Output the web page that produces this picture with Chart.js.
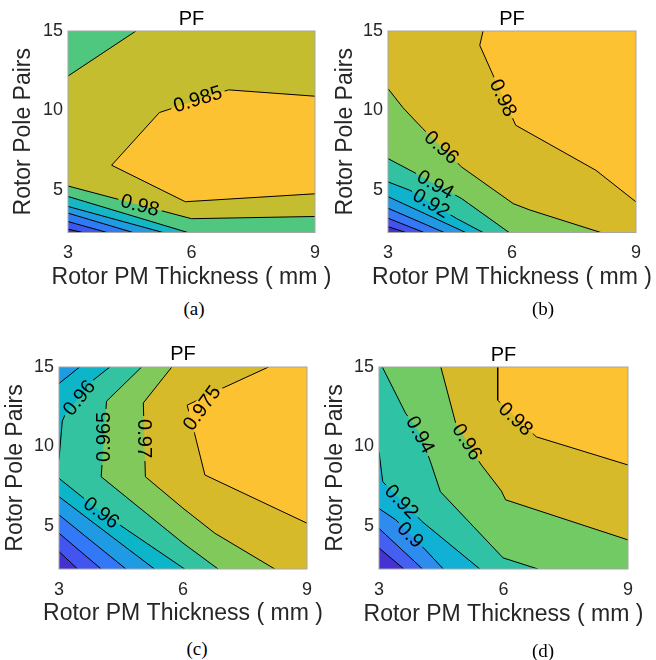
<!DOCTYPE html>
<html>
<head>
<meta charset="utf-8">
<script src="https://cdn.jsdelivr.net/npm/chart.js@4.4.1/dist/chart.umd.min.js"></script>
<style>
  body { margin: 0; background: #fff; }
  #fig { position: relative; width: 656px; height: 660px; overflow: hidden; }
  #fig canvas { position: absolute; }
  .cap { position: absolute; width: 60px; text-align: center; line-height: 22px;
         font: 19px 'Liberation Serif', 'Times New Roman', serif; color: #000; }
</style>
</head>
<body>
<div id="fig">
  <canvas id="pfA" width="345" height="296" style="left:0;top:0"></canvas>
  <canvas id="pfB" width="328" height="296" style="left:328px;top:0"></canvas>
  <canvas id="pfC" width="345" height="296" style="left:0;top:336px"></canvas>
  <canvas id="pfD" width="336" height="296" style="left:320px;top:336px"></canvas>
  <div class="cap" style="left:164px;top:298px">(a)</div>
  <div class="cap" style="left:513px;top:298px">(b)</div>
  <div class="cap" style="left:167px;top:638px">(c)</div>
  <div class="cap" style="left:513px;top:640px">(d)</div>
</div>
<script>
Chart.defaults.font.family = "'Liberation Sans', Arial, sans-serif";

const X_MIN = 3, X_MAX = 9, Y_MIN = 2.3, Y_MAX = 15;
const xTicks = [3, 6, 9];
const yTicks = [5, 10, 15];

// (a) contour levels, band colours (lowest band first) and contour pieces per level
const aLevels = [0.955, 0.96, 0.965, 0.97, 0.975, 0.98, 0.985];
const aColors = ['#4331cf', '#3d58ef', '#2f7bf5', '#1f9be2', '#15b7c3', '#4fc77e', '#c4bd2f', '#fcc232'];
const aContours = [
  [[[3, 2.51], [3.36, 2.3]]],
  [[[3, 2.99], [3.95, 2.3]]],
  [[[3, 3.52], [4.58, 2.3]]],
  [[[3, 3.94], [5.31, 2.3]]],
  [[[3, 4.57], [5.91, 2.3]]],
  [[[3, 5.23], [6, 3.17], [9, 3.31]], [[4.65, 15], [3, 12.16]]],
  [[[9, 10.89], [6.9, 11.29], [5.22, 9.86], [4.06, 6.54], [5.85, 4.24], [9, 4.74]]]
];
const aLabels = [[0.985, 6.15, 10.72, -17], [0.98, 4.75, 4.03, 15]];

// (b)
const bLevels = [0.84, 0.86, 0.88, 0.90, 0.92, 0.94, 0.96, 0.98];
const bColors = ['#4431d0', '#4453ee', '#3477f7', '#2198e4', '#0fb4cc', '#31c2a2', '#7fc95b', '#d6ba29', '#fcc232'];
const bContours = [
  [[[3, 2.67], [3.43, 2.3]]],
  [[[3, 3.20], [3.87, 2.3]]],
  [[[3, 3.83], [4.36, 2.3]]],
  [[[3, 4.56], [4.88, 2.3]]],
  [[[3, 5.49], [3.53, 4.96], [4.66, 3.18], [5.3, 2.3]]],
  [[[3, 6.96], [3.61, 6.12], [4.78, 4.44], [5.93, 2.3]]],
  [[[3, 11.37], [3.36, 10.17], [3.84, 8.85], [4.78, 6.43], [6.03, 4.12], [6.43, 3.72], [8.15, 2.3]]],
  [[[5.30, 15], [5.22, 14.1], [5.49, 12.52], [6.09, 9.06], [8.03, 6.22], [9, 4.23]]]
];
const bLabels = [[0.98, 5.79, 10.79, 65], [0.96, 4.3, 7.67, 42], [0.94, 4.15, 5.34, 30], [0.92, 4.05, 4.15, 31]];

// (c)
const cLevels = [0.94, 0.945, 0.95, 0.955, 0.96, 0.965, 0.97, 0.975];
const cColors = ['#4331d2', '#4255f0', '#3278f7', '#1f9be3', '#0db5c9', '#33c3a0', '#80c95a', '#d6ba29', '#fcc232'];
const cContours = [
  [[[3, 3.4], [3.45, 2.3]]],
  [[[3, 4.55], [4.02, 2.3]]],
  [[[3, 5.7], [4.62, 2.3]]],
  [[[3, 6.85], [5.31, 2.3]], [[3.5, 15], [3, 13.96]]],
  [[[3, 8.0], [4.03, 5.85], [6.04, 2.3]], [[4.23, 15], [3.82, 14.16], [3.14, 11.96], [3.08, 11.6], [3, 9.2]]],
  [[[5.0, 15], [4.15, 12.85], [4.02, 8.1], [6.0, 3.93], [6.85, 2.3]]],
  [[[5.73, 15], [5.04, 12.74], [5.09, 8.1], [6.0, 6.12], [6.77, 4.55], [8.22, 2.3]]],
  [[[8.07, 15], [6.94, 13.65], [6.1, 12.6], [6.28, 10.82], [6.53, 8.21], [9, 5.18]]]
];
const cLabels = [[0.96, 3.48, 13.07, -51], [0.965, 4.08, 10.6, -90], [0.97, 5.07, 10.5, 90],
                 [0.975, 6.45, 12.43, -54], [0.96, 4.03, 5.85, 37]];

// (d)
const dLevels = [0.86, 0.88, 0.90, 0.92, 0.94, 0.96, 0.98];
const dColors = ['#4432d2', '#4360f0', '#2f8cef', '#11b1d6', '#2fc2a4', '#72ca64', '#d6ba29', '#fcc232'];
const dContours = [
  [[[3, 3.62], [3.6, 2.3]]],
  [[[3, 4.85], [4.05, 2.3]]],
  [[[3, 6.1], [3.40, 5.4], [4.12, 3.5], [4.55, 2.3]]],
  [[[3, 9.67], [3.09, 7.79], [4.04, 5.28], [5.43, 2.3]]],
  [[[3.08, 15], [3.64, 12.1], [4.0, 10.75], [4.24, 9.04], [4.48, 7.16], [5.99, 3.0], [6.83, 2.3]]],
  [[[4.49, 15], [4.85, 11.45], [5.45, 8.9], [5.95, 7.2], [6.05, 6.65], [9, 4.13]]],
  [[[5.86, 15], [5.86, 12.91], [6.79, 10.61], [9, 8.84]]]
];
const dLabels = [[0.98, 6.3, 11.75, 43], [0.96, 5.13, 10.3, 58], [0.94, 4.0, 10.75, 62],
                 [0.92, 3.55, 6.55, 46], [0.9, 3.76, 4.45, 45]];

const W_SPAN = X_MAX - X_MIN, H_SPAN = Y_MAX - Y_MIN, PERIM = 2 * (W_SPAN + H_SPAN);
const frameCorners = [
  [X_MAX, Y_MIN, W_SPAN], [X_MAX, Y_MAX, W_SPAN + H_SPAN],
  [X_MIN, Y_MAX, 2 * W_SPAN + H_SPAN], [X_MIN, Y_MIN, PERIM]
];

// distance along the frame, counter-clockwise from the bottom-left corner
function framePos([x, y]) {
  const e = 1e-9;
  if (Math.abs(y - Y_MIN) < e) return x - X_MIN;
  if (Math.abs(x - X_MAX) < e) return W_SPAN + (y - Y_MIN);
  if (Math.abs(y - Y_MAX) < e) return W_SPAN + H_SPAN + (X_MAX - x);
  return 2 * W_SPAN + H_SPAN + (Y_MAX - y);
}

// frame corners met when going counter-clockwise from one edge point to another
function frameWalk(from, to) {
  const a = framePos(from);
  let b = framePos(to);
  if (b <= a) b += PERIM;
  const hits = [];
  frameCorners.forEach(([x, y, t]) => {
    [t - PERIM, t, t + PERIM].forEach(tt => { if (tt > a && tt < b) hits.push([tt, [x, y]]); });
  });
  return hits.sort((p, q) => p[0] - q[0]).map(h => h[1]);
}

// area above a level: its pieces (higher side on the left) joined along the frame
function superLevel(pieces) {
  const pts = [];
  pieces.forEach((piece, i) => {
    const next = pieces[(i + 1) % pieces.length];
    pts.push(...piece, ...frameWalk(piece[piece.length - 1], next[0]));
  });
  return pts;
}

const toXY = pts => pts.map(([x, y]) => ({ x, y }));
const LABEL_FONT = "20px 'Liberation Sans', Arial, sans-serif";
const AXIS_FONT = "23px 'Liberation Sans', Arial, sans-serif";

function panelPlugin(labels, f) {
  const boxes = chart => {
    const ctx = chart.ctx;
    ctx.save();
    ctx.font = LABEL_FONT;
    const out = labels.map(([lv, x, y, ang]) => ({
      text: String(lv),
      px: chart.scales.x.getPixelForValue(x),
      py: chart.scales.y.getPixelForValue(y),
      rot: ang * Math.PI / 180,
      w: ctx.measureText(String(lv)).width + 6,
      h: 17
    }));
    ctx.restore();
    return out;
  };
  return {
    id: 'contourLabels',
    // leave a gap in the contour lines under each label
    beforeDatasetDraw(chart, args) {
      if (!chart.data.datasets[args.index].contourLine) return;
      const ctx = chart.ctx, a = chart.chartArea;
      ctx.save();
      ctx.beginPath();
      ctx.rect(a.left, a.top, a.right - a.left, a.bottom - a.top);
      boxes(chart).forEach(b => {
        const c = Math.cos(b.rot), s = Math.sin(b.rot);
        [[-1, -1], [1, -1], [1, 1], [-1, 1]].forEach(([u, v], k) => {
          const dx = u * b.w / 2, dy = v * b.h / 2;
          const X = b.px + dx * c - dy * s, Y = b.py + dx * s + dy * c;
          k ? ctx.lineTo(X, Y) : ctx.moveTo(X, Y);
        });
        ctx.closePath();
      });
      ctx.clip('evenodd');
    },
    afterDatasetDraw(chart, args) {
      if (chart.data.datasets[args.index].contourLine) chart.ctx.restore();
    },
    afterDatasetsDraw(chart) {
      const ctx = chart.ctx;
      boxes(chart).forEach(b => {
        ctx.save();
        ctx.translate(b.px, b.py);
        ctx.rotate(b.rot);
        ctx.font = LABEL_FONT;
        ctx.fillStyle = '#000';
        ctx.textAlign = 'center';
        ctx.textBaseline = 'middle';
        ctx.fillText(b.text, 0, 1);
        ctx.restore();
      });
    },
    afterDraw(chart) {
      const ctx = chart.ctx, a = chart.chartArea;
      ctx.save();
      ctx.strokeStyle = '#a6a6a6';
      ctx.lineWidth = 1;
      ctx.strokeRect(a.left, a.top, a.right - a.left, a.bottom - a.top);
      // x axis title, wider than the plot so drawn here without squeezing
      ctx.font = AXIS_FONT;
      ctx.fillStyle = '#262626';
      ctx.textAlign = 'center';
      ctx.textBaseline = 'middle';
      ctx.fillText('Rotor PM Thickness ( mm )', (a.left + a.right) / 2, f.xTitleY);
      ctx.restore();
    }
  };
}

function drawPanel(id, levels, colors, contours, labels, f) {
  const frame = [[X_MIN, Y_MIN], [X_MAX, Y_MIN], [X_MAX, Y_MAX], [X_MIN, Y_MAX]];
  const regions = [frame].concat(contours.map(superLevel));
  const datasets = regions.map((poly, k) => ({
    data: toXY(poly),
    backgroundColor: colors[k],
    borderColor: 'transparent',
    borderWidth: 0,
    fill: 'shape',
    pointRadius: 0,
    order: 100 - k
  }));
  contours.forEach((pieces, i) => pieces.forEach(piece => datasets.push({
    label: String(levels[i]),
    data: toXY(piece),
    borderColor: '#000',
    borderWidth: 1,
    fill: false,
    pointRadius: 0,
    order: 0,
    contourLine: true
  })));

  new Chart(document.getElementById(id), {
    type: 'line',
    data: { datasets },
    options: {
      responsive: false,
      animation: false,
      events: [],
      layout: { padding: { left: 0, top: 0, bottom: 0, right: f.W - f.R } },
      plugins: {
        legend: { display: false },
        tooltip: { enabled: false },
        title: {
          display: true, text: 'PF', fullSize: false, color: '#000',
          font: { size: 20, weight: 'normal' },
          padding: { top: f.titleY - 12, bottom: f.T - f.titleY - 12 }
        }
      },
      scales: {
        x: {
          type: 'linear', min: X_MIN, max: X_MAX,
          afterBuildTicks: s => { s.ticks = xTicks.map(value => ({ value })); },
          afterFit: s => { s.height = f.H - f.B; },
          grid: { display: false, drawTicks: false },
          border: { display: false },
          ticks: { padding: 10, color: '#262626', font: { size: 18 }, maxRotation: 0 },
          title: { display: false }
        },
        y: {
          type: 'linear', min: Y_MIN, max: Y_MAX,
          afterBuildTicks: s => { s.ticks = yTicks.map(value => ({ value })); },
          afterFit: s => { s.width = f.L; },
          grid: { display: false, drawTicks: false },
          border: { display: false },
          ticks: { padding: 5, color: '#262626', font: { size: 18 } },
          title: {
            display: true, text: 'Rotor Pole Pairs', color: '#262626',
            font: { size: 23 }, padding: { top: f.yTitleX - 13.8, bottom: 0 }
          }
        }
      }
    },
    plugins: [panelPlugin(labels, f)]
  });
}

drawPanel('pfA', aLevels, aColors, aContours, aLabels,
  { W: 345, H: 296, L: 68, R: 315, T: 31, B: 232.5, titleY: 19.5, yTitleX: 24, xTitleY: 278 });
drawPanel('pfB', bLevels, bColors, bContours, bLabels,
  { W: 328, H: 296, L: 60, R: 308, T: 31, B: 232.5, titleY: 19.5, yTitleX: 17.7, xTitleY: 278 });
drawPanel('pfC', cLevels, cColors, cContours, cLabels,
  { W: 345, H: 296, L: 59, R: 307, T: 31, B: 233, titleY: 18.8, yTitleX: 16, xTitleY: 278 });
drawPanel('pfD', dLevels, dColors, dContours, dLabels,
  { W: 336, H: 296, L: 59, R: 308, T: 31, B: 233, titleY: 19.5, yTitleX: 16, xTitleY: 279 });
</script>
</body>
</html>
